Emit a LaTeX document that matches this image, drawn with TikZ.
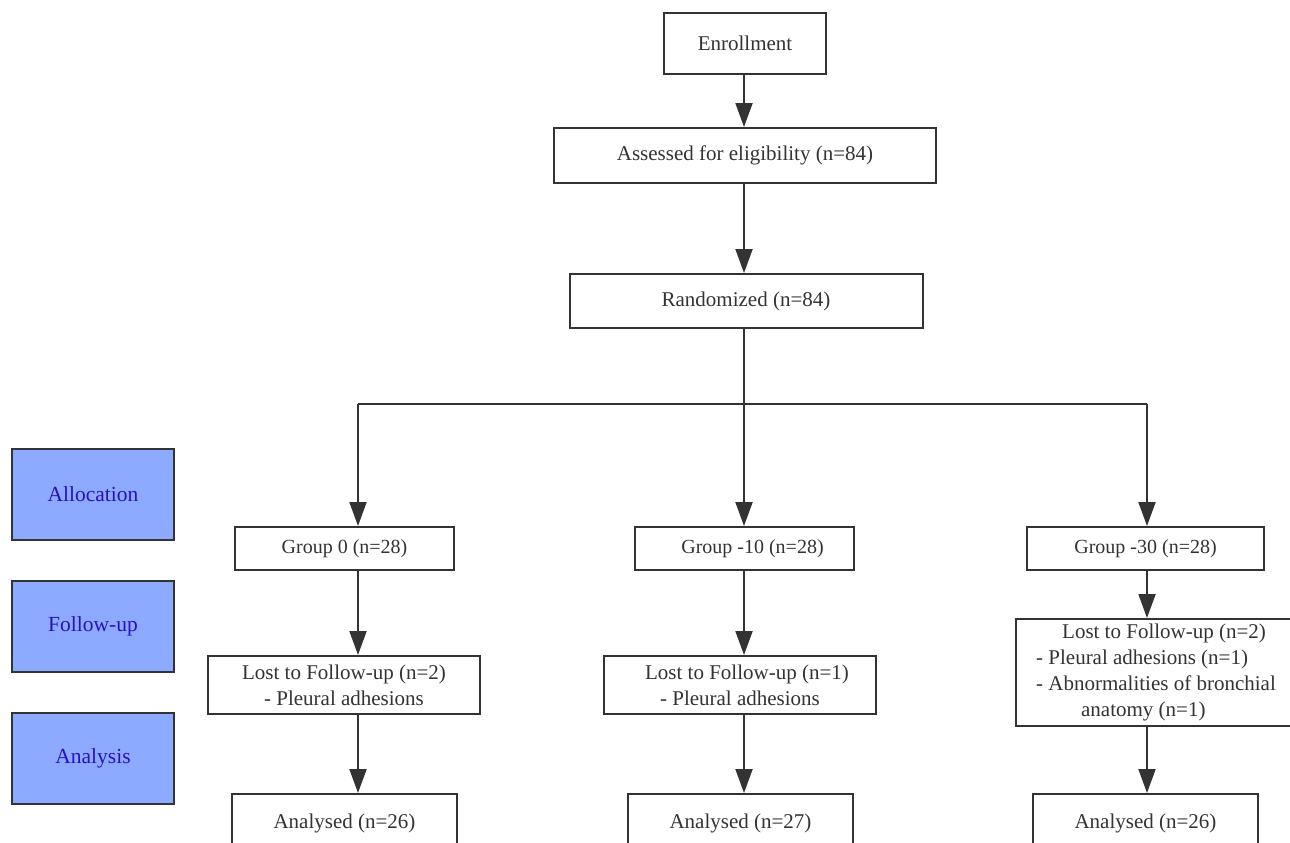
\documentclass[tikz,border=0pt]{standalone}
\usepackage{fontspec}
\setmainfont{Liberation Serif}
\usepackage{tikz}
\usetikzlibrary{arrows.meta,positioning}
\definecolor{linegray}{HTML}{333333}
\definecolor{phasefill}{HTML}{8CAAFF}
\definecolor{phasetext}{HTML}{2A10C0}

\begin{document}
\begin{tikzpicture}[x=1pt,y=-1pt,>={Triangle[length=24pt,width=17pt]},
	box/.style={draw=linegray,line width=2pt,fill=white,text=linegray,inner sep=0pt,
		font=\fontsize{21}{26}\selectfont,align=center},
	grp/.style={box,minimum height=43pt,font=\fontsize{20}{24}\selectfont},
	phase/.style={draw=linegray,line width=2pt,fill=phasefill,text=phasetext,inner sep=0pt,
		minimum width=162pt,minimum height=91pt,font=\fontsize{21.5}{26}\selectfont},
	flow/.style={draw=linegray,line width=2pt}]
	\clip (0,0) rectangle (1290,843);

	\node[phase] (Alloc) at (93,494.5) {Allocation};
	\node[phase] (Foll)  at (93,626.5) {Follow-up};
	\node[phase] (Anal)  at (93,758)   {Analysis};

	\node[box,minimum width=162pt,minimum height=61pt] (Enr)  at (745,43.5)  {Enrollment};
	\node[box,minimum width=382pt,minimum height=55pt] (Ass)  at (745,155.5) {Assessed for eligibility (n=84)};
	\node[box,minimum width=353pt,minimum height=54pt] (Rand) at (746,301)   {Randomized (n=84)};

	\node[grp,minimum width=219pt] (G0)  at (344.5,548.5)  {Group 0 (n=28)};
	\node[grp,minimum width=219pt] (G10) at (744.5,548.5)  {\hspace*{16pt}Group -10 (n=28)};
	\node[grp,minimum width=237pt] (G30) at (1145.5,548.5) {Group -30 (n=28)};

	\node[box,minimum width=272pt,minimum height=58pt] (L0)  at (344,685) {Lost to Follow-up (n=2)\\- Pleural adhesions};
	\node[box,minimum width=272pt,minimum height=58pt] (L10) at (740,685) {\hspace*{14pt}Lost to Follow-up (n=1)\\- Pleural adhesions};
	\node[box,minimum width=280pt,minimum height=107pt,align=left] (L30) at (1156,672.5)
		{\hspace*{26pt}Lost to Follow-up (n=2)\\- Pleural adhesions (n=1)\\- Abnormalities of bronchial\\\hspace*{45pt}anatomy (n=1)\hspace*{10pt}};

	\node[box,minimum width=225pt,minimum height=58pt] (A0)  at (344.5,823)  {Analysed (n=26)};
	\node[box,minimum width=225pt,minimum height=58pt] (A10) at (740.5,823)  {Analysed (n=27)};
	\node[box,minimum width=225pt,minimum height=58pt] (A30) at (1145.5,823) {Analysed (n=26)};

	\coordinate (s0)  at (358,404);
	\coordinate (s10) at (744,404);
	\coordinate (s30) at (1147,404);

	\draw [flow,->] (Enr.south -| s10) to (Ass.north -| s10);
	\draw [flow,->] (Ass.south -| s10) to (Rand.north -| s10);
	\draw [flow] (Rand.south -| s10) to (s10);
	\draw [flow] (s0) to (s30);
	\draw [flow,->] (s0) to (s0 |- G0.north);
	\draw [flow,->] (s10) to (s10 |- G10.north);
	\draw [flow,->] (s30) to (s30 |- G30.north);
	\draw [flow,->] (s0 |- G0.south) to (s0 |- L0.north);
	\draw [flow,->] (s10 |- G10.south) to (s10 |- L10.north);
	\draw [flow,->] (s30 |- G30.south) to (s30 |- L30.north);
	\draw [flow,->] (s0 |- L0.south) to (s0 |- A0.north);
	\draw [flow,->] (s10 |- L10.south) to (s10 |- A10.north);
	\draw [flow,->] (s30 |- L30.south) to (s30 |- A30.north);
\end{tikzpicture}
\end{document}
